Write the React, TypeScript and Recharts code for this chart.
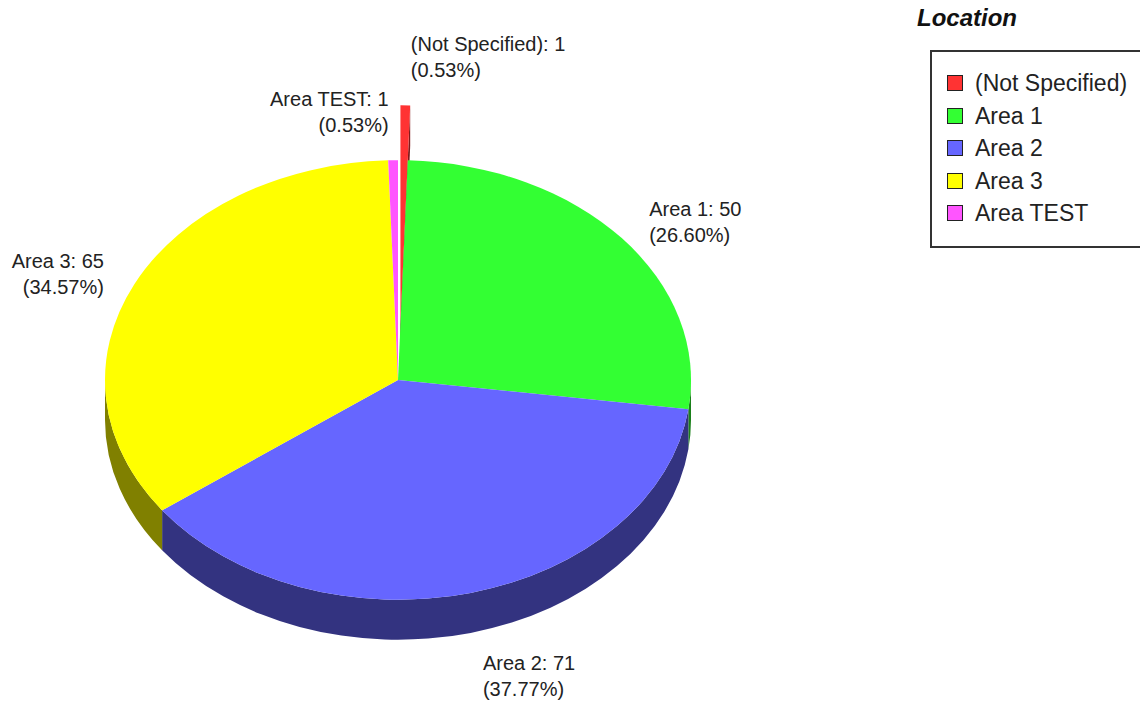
import { PieChart, Pie, Cell, Legend } from "recharts";

// slice order follows the reference: clockwise from 12 o'clock
const locations = ["(Not Specified)", "Area 1", "Area 2", "Area 3", "Area TEST"];
const counts = [1, 50, 71, 65, 1];
const faceColors = ["#ff3333", "#33ff33", "#6666ff", "#ffff00", "#ff55ff"];
const sideColors = ["#801a1a", "#1a801a", "#333380", "#808000", "#802a80"];
const explodedSlices = ["(Not Specified)"];
const legendTitle = "Location";

const data = locations.map((name, i) => ({ name, value: counts[i] }));

const FONT = '"Liberation Sans", Arial, sans-serif';
const TILT = 0.75; // ellipse height / width
const DEPTH = 40;
const EXPLODE = 0.25;
const LABEL_K = 1.1;
const LINE_H = 26;
const RAD = Math.PI / 180;

function Slice3D(props: any) {
  const { cx, cy, outerRadius, startAngle, endAngle, midAngle, index, name, value, percent } = props;
  const rx = outerRadius;
  const ry = outerRadius * TILT;
  const boom = explodedSlices.includes(name) ? EXPLODE * ry : 0;
  const ox = cx + boom * Math.cos(midAngle * RAD) + (boom ? 1.5 : 0);
  const oy = cy - boom * Math.sin(midAngle * RAD);
  const pt = (a: number, dy = 0) => `${ox + rx * Math.cos(a * RAD)},${oy - ry * Math.sin(a * RAD) + dy}`;

  const hi = Math.max(startAngle, endAngle);
  const lo = Math.min(startAngle, endAngle);
  const large = hi - lo > 180 ? 1 : 0;
  const top = `M${ox},${oy} L${pt(hi)} A${rx},${ry} 0 ${large} 1 ${pt(lo)} Z`;

  // front-facing part of the curved wall
  const sHi = Math.min(hi, 0);
  const sLo = Math.max(lo, -180);
  const side =
    sHi > sLo
      ? `M${pt(sHi)} A${rx},${ry} 0 0 1 ${pt(sLo)} L${pt(sLo, DEPTH)} A${rx},${ry} 0 0 0 ${pt(sHi, DEPTH)} Z`
      : null;

  const walls = boom
    ? [hi, lo].map((a) => `M${ox},${oy} L${pt(a)} L${pt(a, DEPTH)} L${ox},${oy + DEPTH} Z`)
    : [];

  // label
  const c = Math.cos(midAngle * RAD);
  const s = Math.sin(midAngle * RAD);
  const ax = ox + rx * LABEL_K * c + (c >= 0 ? 5 : -4);
  const ay = oy - ry * LABEL_K * s + (s < 0 ? DEPTH : 0);
  const centre = ay - Math.sign(s) * Math.pow(Math.abs(s), 6) * LINE_H;
  const anchor = c >= 0 ? "start" : "end";
  const l1 = centre - LINE_H / 2 + 7;

  return (
    <g>
      {walls.map((d, i) => (
        <path key={i} d={d} fill={sideColors[index]} stroke="none" />
      ))}
      {side && <path d={side} fill={sideColors[index]} stroke="none" />}
      <path d={top} fill={faceColors[index]} stroke="none" />
      <text x={ax} y={l1} textAnchor={anchor} fontFamily={FONT} fontSize={20} fill="#222">
        {`${name}: ${value}`}
      </text>
      <text x={ax} y={l1 + LINE_H} textAnchor={anchor} fontFamily={FONT} fontSize={20} fill="#222">
        {`(${(percent * 100).toFixed(2)}%)`}
      </text>
    </g>
  );
}

function LegendBox({ payload }: any) {
  const items = payload ?? [];
  return (
    <div style={{ position: "relative", width: 240, height: 260, fontFamily: FONT }}>
      <div
        style={{
          position: "absolute",
          left: 17,
          top: 4,
          fontSize: 24,
          fontWeight: "bold",
          fontStyle: "italic",
          color: "#111",
          lineHeight: "28px",
        }}
      >
        {legendTitle}
      </div>
      <div
        style={{
          position: "absolute",
          left: 30,
          top: 50,
          width: 260,
          height: 198,
          border: "2px solid #333",
          boxSizing: "border-box",
        }}
      />
      {items.map((item: any, i: number) => {
        const cyRow = 83 + i * 32.5;
        return (
          <div key={item.value}>
            <div
              style={{
                position: "absolute",
                left: 47,
                top: cyRow - 8,
                width: 16,
                height: 16,
                background: faceColors[i],
                border: "1px solid #222",
                boxSizing: "border-box",
              }}
            />
            <div
              style={{
                position: "absolute",
                left: 75,
                top: cyRow - 14,
                fontSize: 23,
                lineHeight: "28px",
                color: "#222",
                whiteSpace: "nowrap",
              }}
            >
              {item.value}
            </div>
          </div>
        );
      })}
    </div>
  );
}

export default function App() {
  return (
    <div
      style={{
        position: "absolute",
        left: 0,
        top: 0,
        width: 1140,
        height: 714,
        overflow: "hidden",
        background: "#fff",
      }}
    >
      <PieChart width={1140} height={714} margin={{ top: 0, right: 0, bottom: 0, left: 0 }}>
        <Pie
          data={data}
          dataKey="value"
          nameKey="name"
          cx={398}
          cy={380}
          outerRadius={293}
          startAngle={90}
          endAngle={-270}
          stroke="none"
          fillOpacity={0}
          labelLine={false}
          label={(p: any) => <Slice3D {...p} />}
          isAnimationActive={false}
        >
          {data.map((d, i) => (
            <Cell key={d.name} fill={faceColors[i]} />
          ))}
        </Pie>
        <Legend
          layout="vertical"
          align="right"
          verticalAlign="top"
          width={240}
          height={260}
          wrapperStyle={{ left: 900, top: 0, right: "auto" }}
          content={(p: any) => <LegendBox payload={p.payload} />}
        />
      </PieChart>
    </div>
  );
}
